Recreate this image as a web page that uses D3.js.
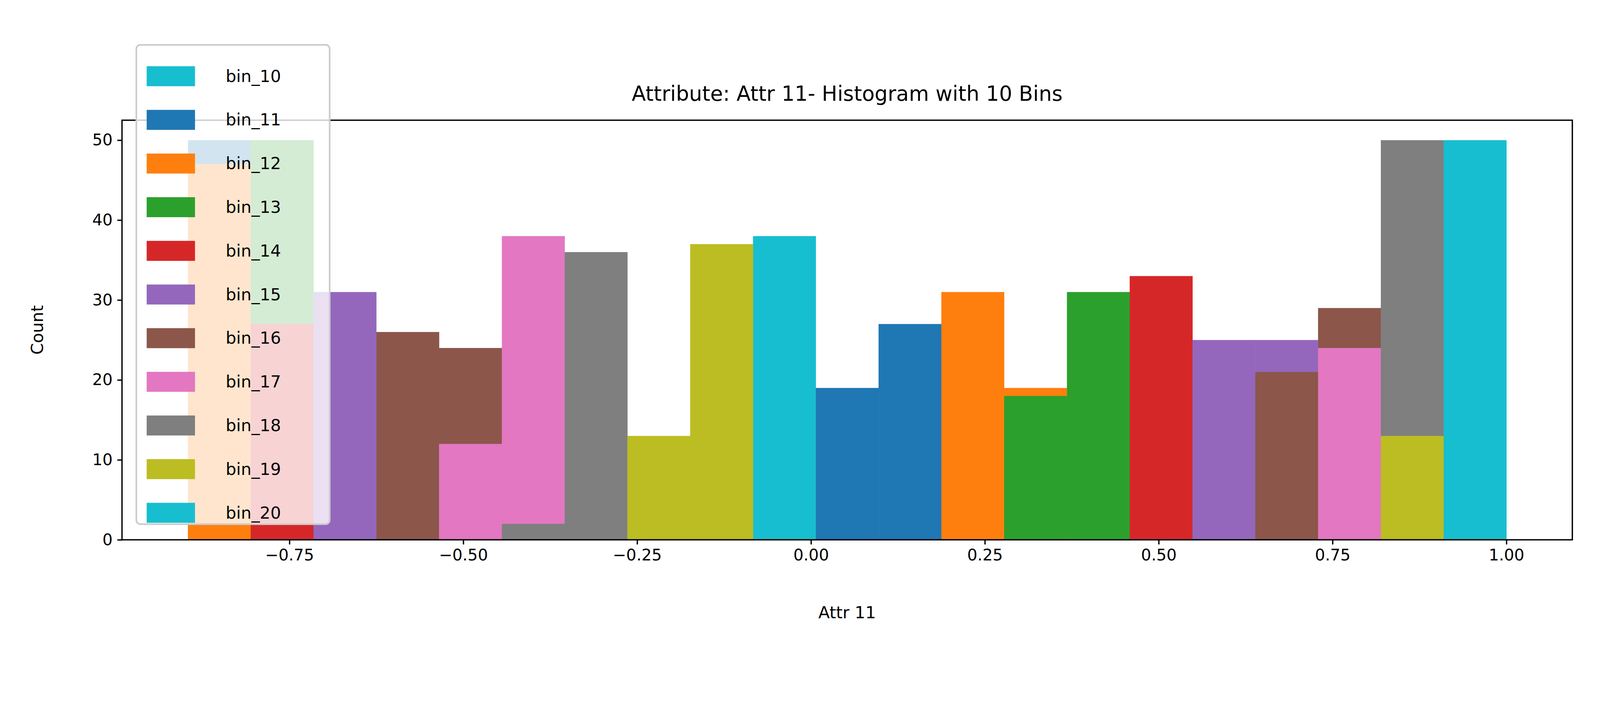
<!DOCTYPE html>
<html>
<head>
<meta charset="utf-8">
<script src="https://cdn.jsdelivr.net/npm/d3@7"></script>
<style>
  html, body { margin: 0; padding: 0; background: #fff; overflow: hidden; }
  svg { display: block; }
  text { font-family: "DejaVu Sans", sans-serif; }
</style>
</head>
<body>
<script>
// Chart data
var seriesNames = ["bin_10", "bin_11", "bin_12", "bin_13", "bin_14", "bin_15", "bin_16", "bin_17", "bin_18", "bin_19", "bin_20"];
var seriesColors = ["#17becf", "#1f77b4", "#ff7f0e", "#2ca02c", "#d62728", "#9467bd", "#8c564b", "#e377c2", "#7f7f7f", "#bcbd22", "#17becf"];
var binStart = -0.896, binEnd = 1.0, binCount = 21;
// counts per series, per bin column (0 = no bar)
var bin10 = [0,0,0,0,0,0,0,0,0,38,0,0,0,0,0,0,0,0,0,0,0];
var bin11 = [50,0,0,0,0,0,0,0,0,0,19,27,0,0,0,0,0,0,0,0,0];
var bin12 = [47,0,0,0,0,0,0,0,0,0,0,0,31,19,0,0,0,0,0,0,0];
var bin13 = [0,50,0,0,0,0,0,0,0,0,0,0,0,18,31,0,0,0,0,0,0];
var bin14 = [0,27,0,0,0,0,0,0,0,0,0,0,0,0,0,33,0,0,0,0,0];
var bin15 = [0,0,31,0,0,0,0,0,0,0,0,0,0,0,0,0,25,25,0,0,0];
var bin16 = [0,0,0,26,24,0,0,0,0,0,0,0,0,0,0,0,0,21,29,0,0];
var bin17 = [0,0,0,0,12,38,0,0,0,0,0,0,0,0,0,0,0,0,24,0,0];
var bin18 = [0,0,0,0,0,2,36,0,0,0,0,0,0,0,0,0,0,0,0,50,0];
var bin19 = [0,0,0,0,0,0,0,13,37,0,0,0,0,0,0,0,0,0,0,13,0];
var bin20 = [0,0,0,0,0,0,0,0,0,0,0,0,0,0,0,0,0,0,0,0,50];
var seriesCounts = [bin10, bin11, bin12, bin13, bin14, bin15, bin16, bin17, bin18, bin19, bin20];
var xTicks = [-0.75, -0.5, -0.25, 0, 0.25, 0.5, 0.75, 1.0];
var yTicks = [0, 10, 20, 30, 40, 50];

var svgWidth = 4800, svgHeight = 1800;
var margin = { top: 206, right: 83, bottom: 335, left: 366 };
var chartWidth = svgWidth - margin.left - margin.right;
var chartHeight = svgHeight - margin.top - margin.bottom;

// fit the drawing to the window whatever its css size
var svg = d3.select("body").append("svg")
  .attr("width", "100vw")
  .attr("height", "100vh")
  .attr("viewBox", `0 0 ${svgWidth} ${svgHeight}`)
  .attr("preserveAspectRatio", "xMidYMid meet");

var chartGroup = svg.append("g")
  .attr("transform", `translate(${margin.left}, ${margin.top})`);

var x = d3.scaleLinear().domain([-0.9908, 1.0948]).range([0, chartWidth]);
var y = d3.scaleLinear().domain([0, 52.5]).range([chartHeight, 0]);
var binW = (binEnd - binStart) / binCount;

// bars, later series drawn on top
seriesCounts.forEach(function(counts, si) {
  var rows = counts.map((c, i) => ({ i: i, c: c })).filter(d => d.c > 0);
  chartGroup.selectAll(".s" + si)
    .data(rows)
    .enter()
    .append("rect")
    .attr("x", d => x(binStart + d.i * binW))
    .attr("width", d => x(binStart + (d.i + 1) * binW) - x(binStart + d.i * binW) + 0.5)
    .attr("y", d => y(d.c))
    .attr("height", d => chartHeight - y(d.c))
    .attr("fill", seriesColors[si]);
});

// axes
var bottomAxis = d3.axisBottom(x).tickValues(xTicks).tickFormat(d3.format(".2f")).tickSize(14).tickPadding(14);
var leftAxis = d3.axisLeft(y).tickValues(yTicks).tickSize(14).tickPadding(14);

var gx = chartGroup.append("g").attr("transform", `translate(0, ${chartHeight})`).call(bottomAxis);
var gy = chartGroup.append("g").call(leftAxis);
[gx, gy].forEach(function(g) {
  g.select(".domain").remove();
  g.selectAll("line").attr("stroke", "#000").attr("stroke-width", 4);
  g.selectAll("text").attr("font-size", 48).attr("fill", "#000").style("font-family", "DejaVu Sans");
});
gx.selectAll("text").text(d => d < 0 ? "\u2212" + d3.format(".2f")(-d) : d3.format(".2f")(d));

chartGroup.append("rect")
  .attr("width", chartWidth).attr("height", chartHeight)
  .attr("fill", "none").attr("stroke", "#000").attr("stroke-width", 4);

// titles
svg.append("text").attr("x", margin.left + chartWidth / 2).attr("y", 148)
  .attr("text-anchor", "middle").attr("font-size", 62).text("Attribute: Attr 11- Histogram with 10 Bins");
svg.append("text").attr("x", margin.left + chartWidth / 2).attr("y", 1700)
  .attr("text-anchor", "middle").attr("font-size", 50).text("Attr 11");
svg.append("text").attr("transform", `translate(129, ${margin.top + chartHeight / 2}) rotate(-90)`)
  .attr("text-anchor", "middle").attr("font-size", 50).text("Count");

// legend
var legend = svg.append("g");
legend.append("rect")
  .attr("x", 409).attr("y", -20).attr("width", 580).attr("height", 1438)
  .attr("rx", 12).attr("fill", "#fff").attr("fill-opacity", 0.8)
  .attr("stroke", "#ccc").attr("stroke-width", 5);
var items = legend.selectAll(".item").data(seriesNames).enter().append("g")
  .attr("transform", (d, i) => `translate(0, ${74 + i * 131})`);
items.append("rect").attr("x", 440).attr("y", -30).attr("width", 145).attr("height", 60)
  .attr("fill", (d, i) => seriesColors[i]);
items.append("text").attr("x", 677).attr("y", 17).attr("font-size", 50).text(d => d);
</script>
</body>
</html>
